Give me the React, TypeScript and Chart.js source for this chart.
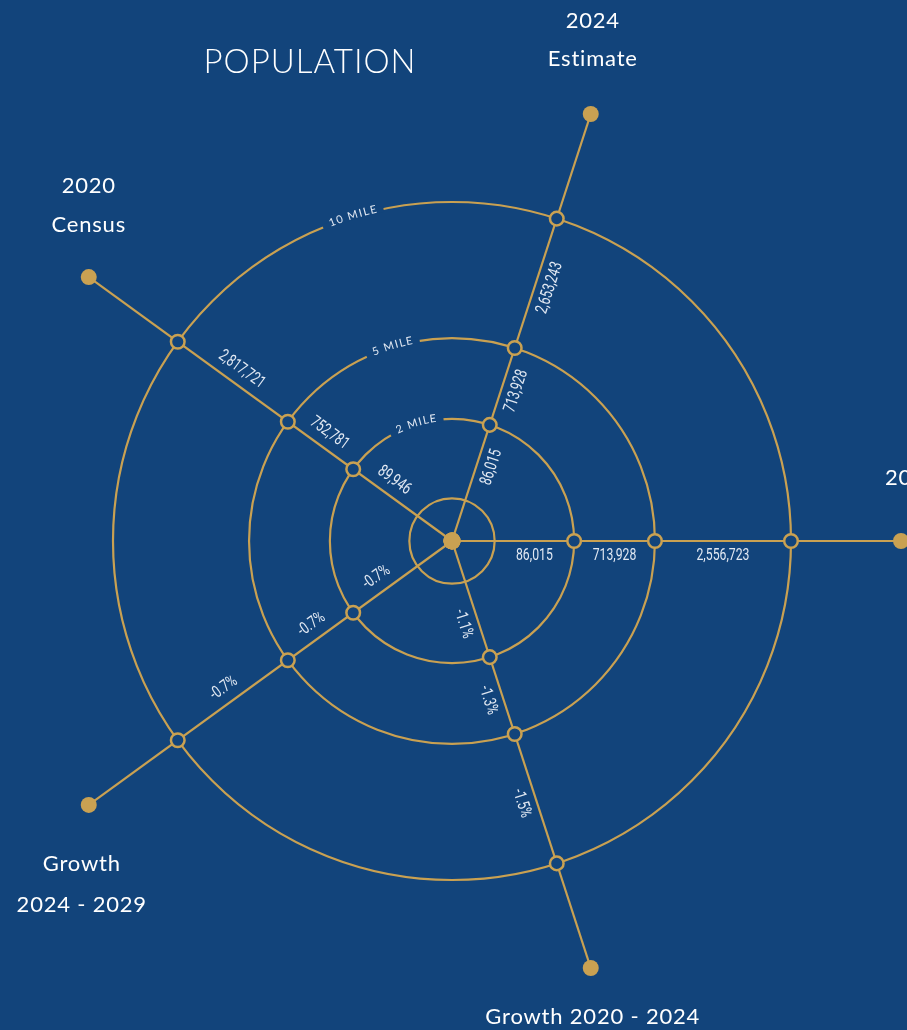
import { useEffect, useRef } from "react";
import { Chart, registerables } from "chart.js";

Chart.register(...registerables);

// ---------- data ----------
const spokeNames = ["2024 Estimate", "2029 Projection", "Growth 2020 - 2024", "Growth 2024 - 2029", "2020 Census"];
const spokeTitleLines = [["2024", "Estimate"], ["2029 Projection"], ["Growth 2020 - 2024"], ["Growth", "2024 - 2029"], ["2020", "Census"]];
const ringNames = ["2 MILE", "5 MILE", "10 MILE"];
const estimate2024 = [86015, 713928, 2653243];
const projection2029 = [86015, 713928, 2556723];
const growth2020to2024 = [-1.1, -1.3, -1.5];
const growth2024to2029 = [-0.7, -0.7, -0.7];
const census2020 = [89946, 752781, 2817721];
// hub ring, 2 mile, 5 mile, 10 mile (in scale units, max = 100)
const ringLevels = [9.5, 27.2, 45.2, 75.5];
const scaleMax = 100;
const titleText = "POPULATION";

// ---------- style / layout ----------
const BG = "#12447b";
const GOLD = "#c9a152";
const WHITE = "#ffffff";
const VALUE_COLOR = "#e2e9f3";
const LABEL_FONT = "Lato, 'Open Sans', sans-serif";
const VALUE_FONT = "Roboto, 'DejaVu Sans', sans-serif";
const RING_LABEL_ANGLE = (-107 * Math.PI) / 180;

// label placement relative to each spoke's end dot
const titleLayout = [
  { dx: 2, baselines: [-86, -48], align: "center" },
  { dx: -16, baselines: [-56], align: "left" },
  { dx: 2, baselines: [56], align: "center" },
  { dx: -7, baselines: [66, 107], align: "center" },
  { dx: 0, baselines: [-84, -45], align: "center" },
];

const spokeValues = [estimate2024, projection2029, growth2020to2024, growth2024to2029, census2020];
const spokeIsPercent = [false, false, true, true, false];

function fmt(v: number, pct: boolean) {
  return pct ? v.toFixed(1) + "%" : v.toLocaleString("en-US");
}

const overlayPlugin = {
  id: "overlay",
  afterDraw(chart: any) {
    const ctx: CanvasRenderingContext2D = chart.ctx;
    const s = chart.scales.r;
    const cx = s.xCenter;
    const cy = s.yCenter;

    // ring names along arcs with gaps
    ctx.save();
    ctx.font = `11px ${LABEL_FONT}`;
    (ctx as any).letterSpacing = "0px";
    const spacing = 1.4;
    ringNames.forEach((name, k) => {
      const r = s.getDistanceFromCenterForValue(ringLevels[k + 1]);
      const chars = name.split("");
      const widths = chars.map((c) => ctx.measureText(c).width);
      const total = widths.reduce((a, b) => a + b, 0) + spacing * (chars.length - 1);
      const half = (total / 2 + 7) / r;
      ctx.beginPath();
      ctx.arc(cx, cy, r, RING_LABEL_ANGLE - half, RING_LABEL_ANGLE + half);
      ctx.strokeStyle = BG;
      ctx.lineWidth = 6;
      ctx.stroke();
      const rt = r + 1.5;
      let acc = -total / 2;
      ctx.fillStyle = VALUE_COLOR;
      ctx.textAlign = "center";
      ctx.textBaseline = "middle";
      chars.forEach((c, i) => {
        const a = RING_LABEL_ANGLE + (acc + widths[i] / 2) / rt;
        ctx.save();
        ctx.translate(cx + Math.cos(a) * rt, cy + Math.sin(a) * rt);
        ctx.rotate(a + Math.PI / 2);
        ctx.fillText(c, 0, 0);
        ctx.restore();
        acc += widths[i] + spacing;
      });
    });
    ctx.restore();

    // values along spokes
    ctx.save();
    ctx.font = `17px ${VALUE_FONT}`;
    ctx.fillStyle = VALUE_COLOR;
    ctx.textAlign = "center";
    ctx.textBaseline = "middle";
    spokeValues.forEach((vals, i) => {
      const a = s.getIndexAngle(i) - Math.PI / 2;
      let rot = a;
      while (rot > Math.PI / 2) rot -= Math.PI;
      while (rot <= -Math.PI / 2) rot += Math.PI;
      vals.forEach((v, j) => {
        const r0 = s.getDistanceFromCenterForValue(ringLevels[j]);
        const r1 = s.getDistanceFromCenterForValue(ringLevels[j + 1]);
        const p = s.getPointPosition(i, (r0 + r1) / 2);
        const off = 15;
        const x = p.x - Math.sin(a) * off;
        const y = p.y + Math.cos(a) * off;
        ctx.save();
        ctx.translate(x, y);
        ctx.rotate(rot);
        ctx.scale(0.72, 1);
        ctx.fillText(fmt(v, spokeIsPercent[i]), 0, 0);
        ctx.restore();
      });
    });
    ctx.restore();

    // spoke titles
    ctx.save();
    ctx.fillStyle = WHITE;
    ctx.font = `22px ${LABEL_FONT}`;
    (ctx as any).letterSpacing = "0.8px";
    ctx.textBaseline = "alphabetic";
    spokeTitleLines.forEach((lines, i) => {
      const end = s.getPointPosition(i, s.getDistanceFromCenterForValue(scaleMax));
      const lay = titleLayout[i];
      ctx.textAlign = lay.align as CanvasTextAlign;
      lines.forEach((line, li) => {
        ctx.fillText(line, end.x + lay.dx, end.y + lay.baselines[li]);
      });
    });

    // main title
    ctx.font = `300 33px ${LABEL_FONT}`;
    (ctx as any).letterSpacing = "1px";
    ctx.textAlign = "center";
    ctx.fillText(titleText, 310, 73);
    ctx.restore();
  },
};

export default function App() {
  const ref = useRef<HTMLCanvasElement | null>(null);

  useEffect(() => {
    document.body.style.margin = "0";
    document.body.style.background = BG;
    if (!ref.current) return;
    const ringDatasets = ringLevels.slice(1).map((level) => ({
      data: spokeNames.map(() => level),
      showLine: false,
      fill: false,
      borderWidth: 0,
      pointRadius: 6.8,
      pointHoverRadius: 6.8,
      pointBorderWidth: 2.5,
      pointBorderColor: GOLD,
      pointBackgroundColor: BG,
      clip: false,
    }));
    const chart = new Chart(ref.current, {
      type: "radar",
      data: {
        labels: spokeNames,
        datasets: [
          ...ringDatasets,
          {
            data: spokeNames.map(() => scaleMax),
            showLine: false,
            fill: false,
            borderWidth: 0,
            pointRadius: 8,
            pointBorderWidth: 0,
            pointBackgroundColor: GOLD,
            clip: false,
          },
          {
            data: spokeNames.map(() => 0),
            showLine: false,
            fill: false,
            borderWidth: 0,
            pointRadius: 8.5,
            pointBorderWidth: 0,
            pointBackgroundColor: GOLD,
            clip: false,
          },
        ] as any,
      },
      options: {
        animation: false,
        responsive: false,
        events: [],
        layout: { padding: { left: 3, right: 6, top: 92, bottom: 40 } },
        plugins: { legend: { display: false }, tooltip: { enabled: false } },
        scales: {
          r: {
            min: 0,
            max: scaleMax,
            startAngle: 18,
            afterBuildTicks: (axis: any) => {
              axis.ticks = [0, ...ringLevels].map((v) => ({ value: v }));
            },
            ticks: { display: false },
            grid: { circular: true, color: GOLD, lineWidth: 2.2 },
            angleLines: { display: true, color: GOLD, lineWidth: 2.2 },
            pointLabels: { display: false },
          } as any,
        },
      },
      plugins: [overlayPlugin],
    });
    return () => chart.destroy();
  }, []);

  return (
    <div style={{ width: 907, height: 1030, background: BG, overflow: "hidden" }}>
      <canvas ref={ref} width={907} height={1030} style={{ display: "block" }} />
    </div>
  );
}
